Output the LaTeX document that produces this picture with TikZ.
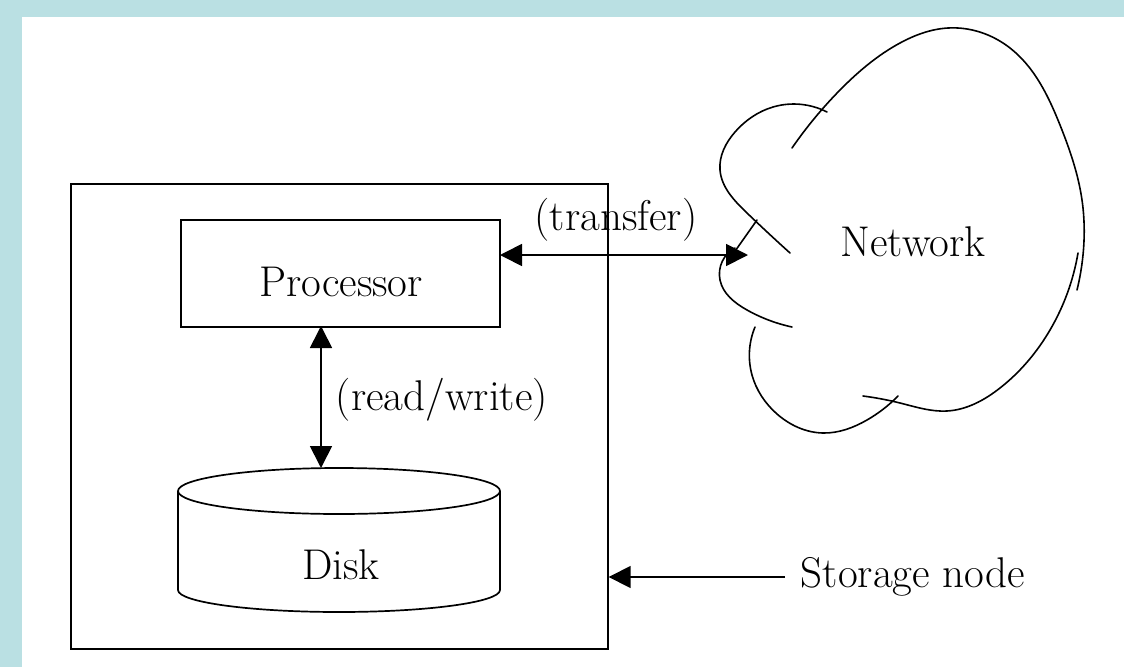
\documentclass[tikz,border=0pt]{standalone}
\usetikzlibrary{arrows.meta,hobby}
\definecolor{framebl}{RGB}{186,224,227}
\begin{document}
\begin{tikzpicture}[x=1pt,y=-1pt,
  line width=1.7pt,
  lbl/.style={inner sep=0pt,font=\fontsize{43}{45}\selectfont},
  boxed/.style={draw,minimum width=319pt,minimum height=107pt,inner sep=0pt},
  tip/.style={-{Triangle[length=22pt,width=22pt]}},
  dtip/.style={{Triangle[length=22pt,width=22pt]}-{Triangle[length=22pt,width=22pt]}},
  cloudline/.style={line width=1.6pt,line cap=round,use Hobby shortcut}]
\useasboundingbox (0,0) rectangle (1124,667);
\fill[framebl] (0,0) rectangle (1124,667);
\fill[white] (22,17) rectangle (1124,667);
% outer storage node box
\node[draw,minimum width=537pt,minimum height=465pt,inner sep=0pt,anchor=north west] (outer) at (70,183) {};
% processor
\node[boxed,anchor=north west] (proc) at (180,219) {};
\node[lbl] (proctext) at (341,282) {Processor};
% disk cylinder
\draw (178,491) -- (178,590) arc[start angle=180,end angle=360,x radius=161pt,y radius=22pt] -- (500,491);
\draw (339,491) ellipse[x radius=161pt,y radius=23pt];
\node[lbl] (disktext) at (341,565) {Disk};
% read/write arrow
\coordinate (procbot) at (321,326);
\coordinate (diskarr) at (321,468);
\draw[dtip] (procbot) -- (diskarr);
\node[lbl,anchor=west] (rw) at (335,400) {(read/write)};
% transfer arrow
\coordinate (procright) at (500,255);
\coordinate (net) at (748,255);
\draw[dtip] (procright) -- (net);
\node[lbl] (tr) at (616,220) {(transfer)};
% cloud
\draw[cloudline] (792,148) .. (840,90) .. (900,43) .. (948,28) .. (1010,48) .. (1060,125) .. (1082,200) .. (1083,255) .. (1077,290);
\draw[cloudline] (1078,253) .. (1050,330) .. (1000,388) .. (947,411) .. (900,403) .. (863,396);
\draw[cloudline] (898,396) .. (867,420) .. (823,433) .. (777,414) .. (752,375) .. (755,327);
\draw[cloudline] (792,327) .. (747,310) .. (720,280) .. (735,248);
\draw[cloudline] (733,254) -- (757,220);
\draw[cloudline] (790,253) .. (747,213) .. (720,170) .. (735,132) .. (773,107) .. (827,112);
\node[lbl] (network) at (913,242) {Network};
% storage node label
\node[lbl,anchor=west] (storage) at (800,577) {Storage node};
\coordinate (storearr) at (785,577);
\draw[tip] (storearr) -- (outer.east |- storearr);
\end{tikzpicture}
\end{document}
